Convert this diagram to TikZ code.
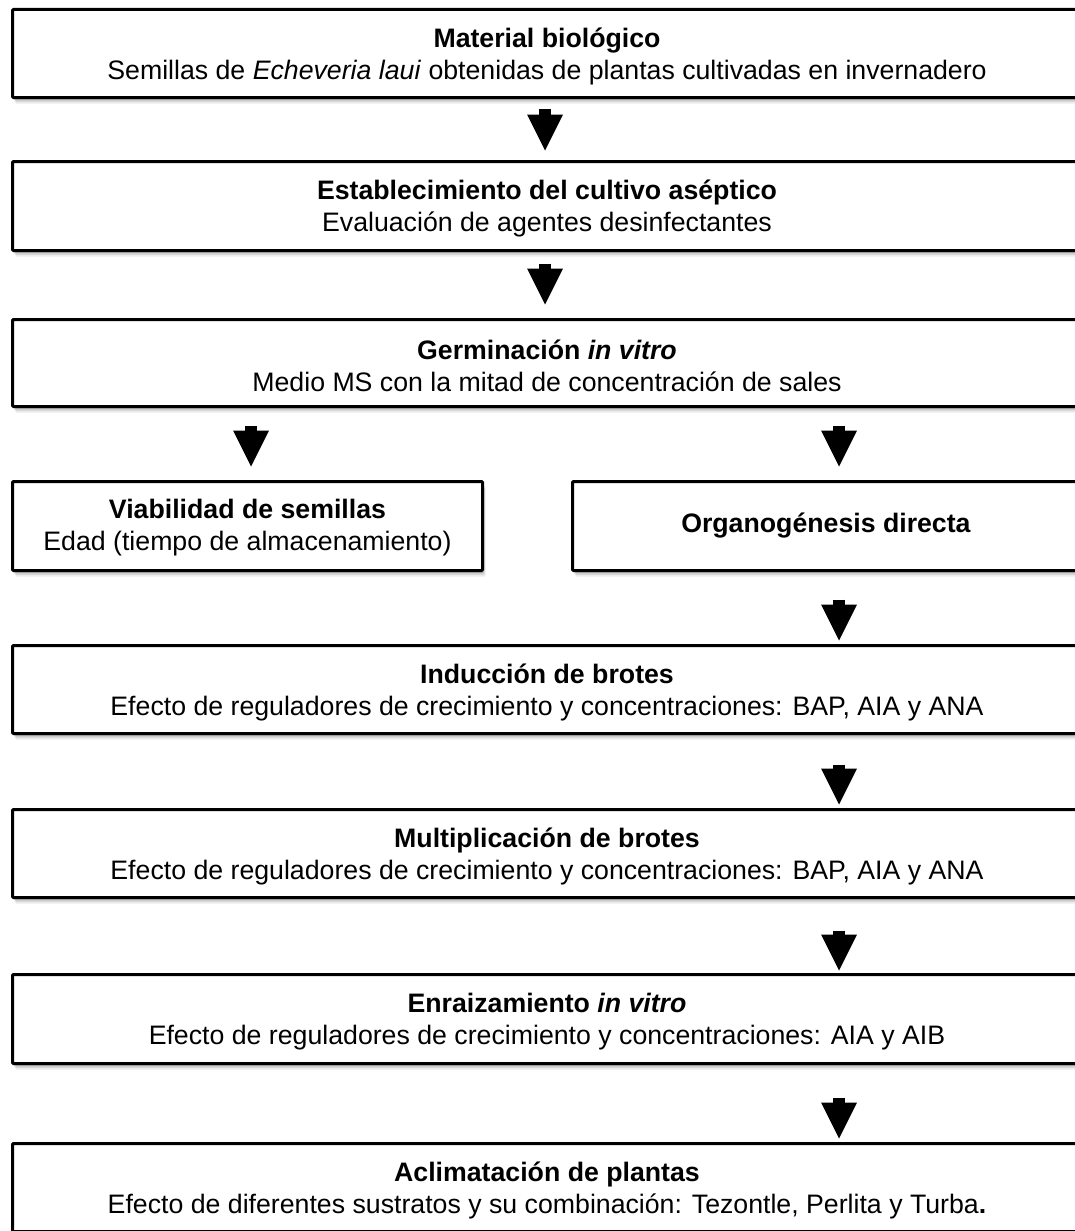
\documentclass[tikz,border=0pt]{standalone}
\usepackage{fontspec}
\setmainfont{Liberation Sans}
\usetikzlibrary{arrows.meta,shadows}
\begin{document}
\begin{tikzpicture}[x=1pt,y=-1pt,
  box/.style={draw, line width=3pt, fill=white, rounded corners=1pt, inner sep=0pt,
    general shadow={shadow xshift=1pt, shadow yshift=-2pt, fill=black, opacity=0.18},
    general shadow={shadow xshift=2pt, shadow yshift=-4pt, fill=black, opacity=0.13},
    general shadow={shadow xshift=3pt, shadow yshift=-6pt, fill=black, opacity=0.08}},
  wide/.style={box, minimum width=1095pt},
  txt/.style={align=center, inner sep=0pt, font=\fontsize{26.7}{32}\selectfont},
  blockarrow/.style={line width=12pt, -{Triangle[width=36pt,length=36pt,line width=0pt]}}]
\useasboundingbox (0,0) rectangle (1074,1231);
\coordinate (xL) at (251,0);
\coordinate (xM) at (545,0);
\coordinate (xR) at (839,0);

% boxes (wide boxes run off the right edge of the picture)
\node[wide, minimum height=88pt] (b1) at (560,53.5) {};
\node[wide, minimum height=89pt] (b2) at (560,206) {};
\node[wide, minimum height=87pt] (b3) at (560,363) {};
\node[box, minimum width=470pt, minimum height=89pt] (b4) at (247.5,526) {};
\node[box, minimum width=507pt, minimum height=89pt] (b5) at (826,526) {};
\node[wide, minimum height=88pt] (b6) at (560,689.5) {};
\node[wide, minimum height=88pt] (b7) at (560,853.5) {};
\node[wide, minimum height=89pt] (b8) at (560,1019) {};
\node[wide, minimum height=88pt] (b9) at (560,1187.5) {};

% texts
\node[txt] (t1) at (547,56)
  {\textbf{Material biológico}\\Semillas de \textit{Echeveria laui} obtenidas de plantas cultivadas en invernadero};
\node[txt] (t2) at (547,208.5)
  {\textbf{Establecimiento del cultivo aséptico}\\Evaluación de agentes desinfectantes};
\node[txt] (t3) at (547,365.5)
  {\textbf{Germinación \textit{in vitro}}\\Medio MS con la mitad de concentración de sales};
\node[txt] (t4) at (247.5,528)
  {\textbf{Viabilidad de semillas}\\Edad (tiempo de almacenamiento)};
\node[txt] (t5) at (b5.center)
  {\textbf{Organogénesis directa}};
\node[txt] (t6) at (547,692)
  {\textbf{Inducción de brotes}\\Efecto de reguladores de crecimiento y concentraciones: BAP, AIA y ANA};
\node[txt] (t7) at (547,856)
  {\textbf{Multiplicación de brotes}\\Efecto de reguladores de crecimiento y concentraciones: BAP, AIA y ANA};
\node[txt] (t8) at (547,1021.5)
  {\textbf{Enraizamiento \textit{in vitro}}\\Efecto de reguladores de crecimiento y concentraciones: AIA y AIB};
\node[txt] (t9) at (547,1190)
  {\textbf{Aclimatación de plantas}\\Efecto de diferentes sustratos y su combinación: Tezontle, Perlita y Turba\textbf{.}};

% block arrows
\draw[blockarrow, shorten <=9.5pt, shorten >=9.5pt] (b1.south -| xM) -- (b2.north -| xM);
\draw[blockarrow, shorten <=11.5pt, shorten >=13.5pt] (b2.south -| xM) -- (b3.north -| xM);
\draw[blockarrow, shorten <=17.5pt, shorten >=13.5pt] (b3.south -| xL) -- (b4.north -| xL);
\draw[blockarrow, shorten <=17.5pt, shorten >=13.5pt] (b3.south -| xR) -- (b5.north -| xR);
\draw[blockarrow, shorten <=27.5pt, shorten >=3.5pt] (b5.south -| xR) -- (b6.north -| xR);
\draw[blockarrow, shorten <=29.5pt, shorten >=3.5pt] (b6.south -| xR) -- (b7.north -| xR);
\draw[blockarrow, shorten <=31.5pt, shorten >=2.5pt] (b7.south -| xR) -- (b8.north -| xR);
\draw[blockarrow, shorten <=32.5pt, shorten >=3.5pt] (b8.south -| xR) -- (b9.north -| xR);
\end{tikzpicture}
\end{document}
